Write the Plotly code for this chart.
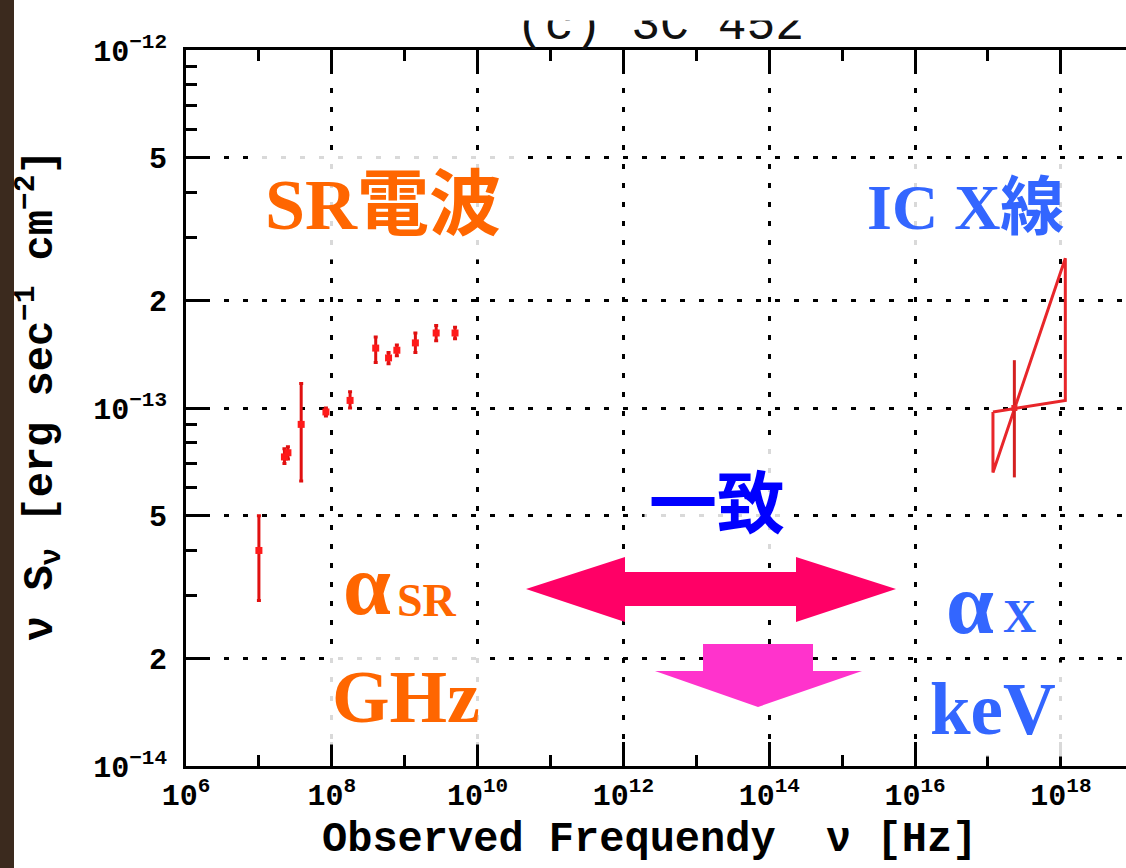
import plotly.graph_objects as go

# ---------------- data ----------------
# radio (synchrotron) points
radio_freq = [1.0e7, 2.24e7, 2.5e7, 3.8e7, 8.3e7, 1.78e8, 4.0e8, 6.0e8, 7.8e8, 1.4e9, 2.7e9, 4.9e9]
radio_flux = [4.0e-14, 7.3e-14, 7.5e-14, 9.0e-14, 9.75e-14, 1.05e-13, 1.47e-13, 1.38e-13, 1.45e-13, 1.52e-13, 1.62e-13, 1.62e-13]
radio_hi   = [5.0e-14, 7.7e-14, 7.8e-14, 1.17e-13, 1.0e-13, 1.11e-13, 1.58e-13, 1.43e-13, 1.50e-13, 1.62e-13, 1.70e-13, 1.68e-13]
radio_lo   = [2.9e-14, 7.0e-14, 7.2e-14, 6.25e-14, 9.5e-14, 1.0e-13, 1.34e-13, 1.33e-13, 1.40e-13, 1.43e-13, 1.54e-13, 1.56e-13]

# X-ray (inverse Compton) point
xray_freq = [2.3e17]
xray_flux = [1.0e-13]
xray_hi   = [1.36e-13]
xray_lo   = [6.4e-14]

# X-ray bow-tie outline
bow_freq = [1.17e17, 1.17e17, 1.15e18, 1.15e18, 1.17e17]
bow_flux = [9.75e-14, 6.6e-14, 2.62e-13, 1.05e-13, 9.75e-14]

# axis ticks
x_tickvals = [1e6, 1e8, 1e10, 1e12, 1e14, 1e16, 1e18]
x_ticktext = ["10<sup>6</sup>", "10<sup>8</sup>", "10<sup>10</sup>", "10<sup>12</sup>",
              "10<sup>14</sup>", "10<sup>16</sup>", "10<sup>18</sup>"]
x_minor = [1e7, 1e9, 1e11, 1e13, 1e15, 1e17]
y_tickvals = [1e-14, 2e-14, 5e-14, 1e-13, 2e-13, 5e-13, 1e-12]
y_ticktext = ["10<sup>−14</sup>", "2", "5", "10<sup>−13</sup>", "2", "5", "10<sup>−12</sup>"]
y_minor = [3e-14, 4e-14, 6e-14, 7e-14, 8e-14, 9e-14,
           3e-13, 4e-13, 6e-13, 7e-13, 8e-13, 9e-13]

# ---------------- geometry helpers ----------------
W, H = 1126, 868
L, R, T, B = 186, 1126, 50, 766


def px(x):
    return (x - L) / (R - L)


def py(y):
    return (B - y) / (B - T)


RED = "#ff1a1a"

fig = go.Figure()

fig.add_trace(go.Scatter(
    x=radio_freq, y=radio_flux, mode="markers",
    marker=dict(symbol="square", size=7, color=RED),
    error_y=dict(type="data", symmetric=False,
                 array=[h - v for h, v in zip(radio_hi, radio_flux)],
                 arrayminus=[v - l for v, l in zip(radio_flux, radio_lo)],
                 color="#e01010", thickness=3, width=2),
    showlegend=False, hoverinfo="skip"))

fig.add_trace(go.Scatter(
    x=bow_freq, y=bow_flux, mode="lines",
    line=dict(color="#e8262a", width=3),
    showlegend=False, hoverinfo="skip"))

fig.add_trace(go.Scatter(
    x=xray_freq, y=xray_flux, mode="markers",
    marker=dict(symbol="square", size=6, color="#e8262a"),
    error_y=dict(type="data", symmetric=False,
                 array=[h - v for h, v in zip(xray_hi, xray_flux)],
                 arrayminus=[v - l for v, l in zip(xray_flux, xray_lo)],
                 color="#d42020", thickness=3, width=0),
    showlegend=False, hoverinfo="skip"))

TICKFONT = dict(family="Liberation Mono", size=30, color="black", weight="bold")

fig.update_xaxes(
    type="log", range=[6, 18.893],
    tickmode="array", tickvals=x_tickvals, ticktext=x_ticktext,
    ticks="inside", ticklen=24, tickwidth=3, tickcolor="black",
    minor=dict(tickmode="array", tickvals=x_minor, ticks="inside",
               ticklen=11, tickwidth=3, tickcolor="black", showgrid=False),
    showline=True, linewidth=3, linecolor="black", mirror="ticks",
    showgrid=True, gridcolor="black", gridwidth=3, griddash="5px,14px",
    tickfont=TICKFONT, zeroline=False, ticklabelstandoff=0,
)
fig.update_yaxes(
    type="log", range=[-14, -12],
    tickmode="array", tickvals=y_tickvals, ticktext=y_ticktext,
    ticks="inside", ticklen=22, tickwidth=3, tickcolor="black",
    minor=dict(tickmode="array", tickvals=y_minor, ticks="inside",
               ticklen=11, tickwidth=3, tickcolor="black", showgrid=False),
    showline=True, linewidth=3, linecolor="black", mirror=False,
    showgrid=True, gridcolor="black", gridwidth=3, griddash="5px,14px",
    tickfont=TICKFONT, zeroline=False, ticklabelstandoff=10,
)

ORANGE = "#ff6600"
BLUE = "#3366ff"
SERIF = "Liberation Serif, Noto Sans CJK JP"
BG = "rgba(255,255,255,0.85)"

annos = [
    # title (partly cut at the top)
    dict(text="(c) 3C 452", x=px(660), y=py(26), font=dict(family="Liberation Mono", size=48, color="#111")),
    # axis titles
    dict(text="Observed Frequendy  ν [Hz]", x=px(649), y=py(840),
         font=dict(family="Liberation Mono", size=42, color="black", weight="bold")),
    dict(text="ν S<sub>ν</sub> [erg sec<sup>−1</sup> cm<sup>−2</sup>]", x=px(40), y=py(395), textangle=-90,
         font=dict(family="Liberation Mono", size=42, color="black", weight="bold")),
    # labels
    dict(text="SR電波", x=px(383), y=py(205), bgcolor=BG, borderpad=14,
         font=dict(family=SERIF, size=72, color=ORANGE, weight="bold")),
    dict(text="IC X線", x=px(965), y=py(208), bgcolor=BG, borderpad=10,
         font=dict(family=SERIF, size=64, color=BLUE, weight="bold")),
    dict(text="一致", x=px(717), y=py(498), bgcolor=BG, borderpad=4,
         font=dict(family="Noto Sans CJK JP", size=68, color="#0000ff", weight="bold")),
    dict(text="α", x=px(367), y=py(585), bgcolor=BG,
         font=dict(family="Liberation Serif", size=86, color=ORANGE, weight="bold")),
    dict(text="SR", x=px(427), y=py(600),
         font=dict(family="Liberation Serif", size=46, color=ORANGE, weight="bold")),
    dict(text="GHz", x=px(406), y=py(697), bgcolor=BG, borderpad=6,
         font=dict(family="Liberation Serif", size=74, color=ORANGE, weight="bold")),
    dict(text="α", x=px(970), y=py(604), bgcolor=BG,
         font=dict(family="Liberation Serif", size=86, color=BLUE, weight="bold")),
    dict(text="X", x=px(1019), y=py(616),
         font=dict(family="Liberation Serif", size=46, color=BLUE, weight="bold")),
    dict(text="keV", x=px(993), y=py(709), bgcolor=BG, borderpad=6,
         font=dict(family="Liberation Serif", size=73, color=BLUE, weight="bold")),
    # white band that crops the top of the title
    dict(text=" ", x=px(660), y=1 + 50 / (B - T), yanchor="top", width=420, height=17,
         bgcolor="white", font=dict(size=10)),
]
for a in annos:
    a.setdefault("xref", "paper")
    a.setdefault("yref", "paper")
    a.setdefault("showarrow", False)
    a.setdefault("xanchor", "center")
    a.setdefault("yanchor", "middle")
fig.update_layout(annotations=annos)

shapes = [
    # dark wooden strip on the left edge of the slide
    dict(type="rect", xref="paper", yref="paper", x0=px(0), x1=px(14), y0=py(H), y1=py(0),
         fillcolor="#3b2a1e", line=dict(width=0), layer="below"),
    # double-headed arrow
    dict(type="path", xref="paper", yref="paper",
         path=("M {} {} L {} {} L {} {} L {} {} L {} {} L {} {} L {} {} L {} {} L {} {} L {} {} Z".format(
             px(526), py(589), px(625), py(557), px(625), py(572), px(796), py(572),
             px(796), py(557), px(896), py(589), px(796), py(622), px(796), py(606),
             px(625), py(606), px(625), py(622))),
         fillcolor="#ff0066", line=dict(width=0), layer="above"),
    # downward arrow
    dict(type="path", xref="paper", yref="paper",
         path=("M {} {} L {} {} L {} {} L {} {} L {} {} L {} {} L {} {} Z".format(
             px(703), py(644), px(813), py(644), px(813), py(671), px(862), py(671),
             px(758), py(707), px(655), py(671), px(703), py(671))),
         fillcolor="#ff33cc", line=dict(width=0), layer="above"),
]
fig.update_layout(shapes=shapes)

fig.update_layout(
    width=W, height=H,
    margin=dict(l=L, r=W - R, t=T, b=H - B),
    paper_bgcolor="white", plot_bgcolor="white",
    showlegend=False,
)

fig.write_html("out.html", config={"displayModeBar": False},
               post_script="document.body.style.margin='0px';document.body.style.overflow='hidden';")
